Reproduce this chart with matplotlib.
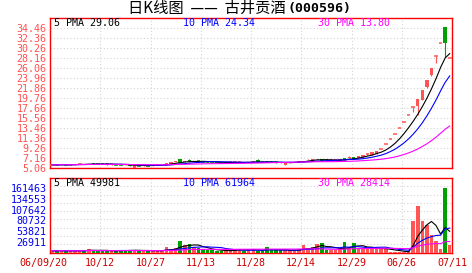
import numpy as np
import pandas as pd
import matplotlib
matplotlib.use("Agg")
import matplotlib.pyplot as plt
from matplotlib.transforms import ScaledTranslation

# daily K-line data, 古井贡酒 (000596)
dates = ["06/09/20", "10/12", "10/27", "11/13", "11/28", "12/14", "12/29", "06/26", "07/11"]

opens = [5.75, 5.80, 5.78, 5.85, 5.80, 5.82, 5.90, 5.98, 5.90, 6.10,
         5.95, 5.93, 5.90, 5.88, 5.90, 5.85, 5.82, 5.75, 5.20, 5.65,
         5.62, 5.66, 5.64, 5.70, 5.72, 5.85, 6.05, 6.45, 6.95, 6.35,
         6.90, 6.40, 6.55, 6.50, 6.45, 6.40, 6.35, 6.30, 6.20, 6.25,
         6.28, 6.30, 6.42, 6.30, 6.30, 6.85, 6.40, 6.38, 6.35, 6.30,
         6.28, 5.85, 6.20, 6.30, 6.40, 6.45, 6.75, 6.60, 6.92, 7.05,
         6.75, 6.70, 6.75, 6.65, 7.20, 7.30, 7.50, 7.20, 7.40, 8.05,
         7.80, 8.10, 9.10, 10.10, 11.20, 12.30, 13.50, 14.70, 16.25, 17.90,
         18.20, 19.50, 22.20, 24.65, 28.64, 31.40, 34.65, 28.20]
closes = [5.80, 5.78, 5.85, 5.80, 5.82, 5.90, 5.95, 5.90, 6.02, 5.95,
          5.93, 5.90, 5.88, 5.90, 5.85, 5.82, 5.75, 5.55, 5.65, 5.62,
          5.66, 5.64, 5.70, 5.72, 5.80, 6.10, 6.35, 6.60, 6.25, 6.60,
          6.50, 6.55, 6.50, 6.45, 6.40, 6.35, 6.30, 6.25, 6.25, 6.28,
          6.30, 6.34, 6.30, 6.38, 6.50, 6.40, 6.38, 6.35, 6.30, 6.28,
          6.22, 6.20, 6.30, 6.40, 6.65, 6.60, 6.90, 7.00, 7.05, 6.65,
          6.70, 6.75, 6.80, 6.95, 6.85, 7.50, 7.05, 7.60, 7.90, 8.10,
          8.45, 8.70, 9.10, 10.10, 11.20, 12.30, 13.50, 14.70, 16.25, 17.90,
          19.60, 21.50, 23.60, 26.05, 28.64, 31.40, 31.44, 28.20]
highs = [5.82, 5.83, 5.88, 5.87, 5.85, 5.92, 5.98, 6.02, 6.05, 6.20,
         5.98, 5.95, 5.92, 5.92, 5.92, 5.88, 5.85, 5.78, 5.68, 5.68,
         5.68, 5.70, 5.75, 5.75, 5.82, 6.12, 6.38, 6.65, 7.10, 6.65,
         7.05, 6.58, 6.60, 6.55, 6.48, 6.42, 6.38, 6.32, 6.28, 6.30,
         6.32, 6.36, 6.45, 6.40, 6.52, 6.95, 6.42, 6.40, 6.38, 6.32,
         6.30, 6.24, 6.32, 6.42, 6.68, 6.62, 7.02, 7.02, 7.10, 7.08,
         6.78, 6.78, 6.82, 6.98, 7.22, 7.55, 7.52, 7.62, 7.95, 8.27,
         8.48, 8.76, 9.10, 10.10, 11.20, 12.30, 13.50, 14.70, 16.25, 17.90,
         19.60, 21.50, 23.60, 26.05, 28.64, 31.40, 34.65, 28.20]
lows = [5.72, 5.76, 5.76, 5.78, 5.78, 5.80, 5.88, 5.88, 5.88, 5.92,
        5.90, 5.88, 5.85, 5.85, 5.83, 5.80, 5.72, 5.50, 5.15, 5.60,
        5.60, 5.62, 5.62, 5.68, 5.70, 5.82, 6.02, 6.42, 6.20, 6.30,
        6.45, 6.38, 6.45, 6.42, 6.38, 6.32, 6.28, 6.22, 6.18, 6.22,
        6.25, 6.28, 6.28, 6.28, 6.28, 6.38, 6.35, 6.30, 6.28, 6.25,
        6.20, 5.82, 6.18, 6.28, 6.38, 6.42, 6.70, 6.58, 6.90, 6.62,
        6.66, 6.68, 6.72, 6.62, 6.82, 7.28, 7.02, 7.18, 7.38, 7.90,
        7.78, 8.06, 9.10, 10.10, 11.20, 12.30, 13.50, 14.70, 16.25, 16.82,
        16.25, 19.40, 22.00, 24.50, 27.24, 31.40, 28.37, 28.20]
volumes = [5000, 4500, 5500, 4000, 5000, 5200, 4800, 5000, 10000, 5000,
           4500, 4800, 5000, 4200, 5000, 6700, 5000, 6500, 7000, 4500,
           5000, 4800, 4200, 5000, 4600, 14000, 9000, 12000, 29000, 19000,
           21600, 15000, 11000, 10000, 6000, 5500, 5000, 5200, 5000, 5500,
           8000, 10000, 5000, 6000, 8500, 5000, 5000, 13000, 6000, 6000,
           5500, 6000, 6000, 5000, 8000, 19000, 10500, 15000, 20700, 25000,
           6000, 7000, 6000, 8000, 26500, 13000, 25000, 12000, 10700, 10000,
           11000, 10500, 10000, 9500, 2500, 2000, 2500, 2000, 3000, 79700,
           117100, 79700, 68300, 44900, 30000, 10000, 161463, 20000]

price_ticks = [5.06, 7.16, 9.26, 11.36, 13.46, 15.56, 17.66, 19.76,
               21.86, 23.96, 26.06, 28.16, 30.26, 32.36, 34.46]
vol_ticks = [26911, 53821, 80732, 107642, 134553, 161463]
price_ma_text = ["5 PMA 29.06", "10 PMA 24.34", "30 PMA 13.80"]
vol_ma_text = ["5 PMA 49981", "10 PMA 61964", "30 PMA 28414"]
ma_windows = [5, 10, 30]
ma_colors = ["black", "#0000ff", "#ff00ff"]

RED = "#ff5555"
GREEN = "#00a000"
GRID = "#d4d4d4"
MONO = "DejaVu Sans Mono"
VTOP = 186420

o = np.array(opens); c = np.array(closes)
h = np.array(highs); l = np.array(lows)
v = np.array(volumes)
n = len(c)
x = np.arange(n)
cols = np.where(c >= o, RED, GREEN)

fig = plt.figure(figsize=(4.72, 2.73), dpi=100)
ax1 = fig.add_axes([50/472, 1-168.3/273, 402/472, 150/273])
ax2 = fig.add_axes([50/472, 1-252.7/273, 402/472, 74.7/273])

# candles
ax1.vlines(x, l, h, colors=cols, lw=0.8, zorder=3)
body = np.abs(c - o)
ax1.bar(x, body, bottom=np.minimum(o, c), width=0.75, color=cols, lw=0, zorder=3)
flat = body < 0.06
ax1.hlines(c[flat], x[flat]-0.4, x[flat]+0.4, colors=cols[flat], lw=1.1, zorder=3)

# volume bars
ax2.bar(x, v, width=0.78, color=cols, lw=0, zorder=3)

for w, col in zip(ma_windows, ma_colors):
    ax1.plot(x, pd.Series(c).rolling(w, min_periods=1).mean(), color=col, lw=0.8, zorder=4)
    ax2.plot(x, pd.Series(v).rolling(w, min_periods=1).mean(), color=col, lw=0.8, zorder=4)

xt = np.linspace(-0.5, n-0.5, len(dates))
for ax in (ax1, ax2):
    ax.set_xlim(-0.5, n-0.5)
    ax.set_xticks(xt)
    ax.set_axisbelow(True)
    for s in ax.spines.values():
        s.set_color("red")
        s.set_linewidth(1.0)
    ax.spines["left"].set_linestyle((0, (1, 1)))
    ax.tick_params(length=0, labelsize=7.2, pad=2.5)

ax1.grid(True, color=GRID, ls=(0, (1, 2)), lw=0.8)
ax2.grid(True, axis="x", color=GRID, ls=(0, (1, 2)), lw=0.8)
# volume panel rows are evenly spaced, not tied to the labels
for k in range(1, 9):
    ax2.axhline(VTOP * k / 9, color=GRID, ls=(0, (1, 2)), lw=0.8, zorder=0)

ax1.set_ylim(5.06, 36.56)
ax1.set_yticks(price_ticks)
ax1.set_yticklabels(["%.2f" % t for t in price_ticks], color="#ff5050", family=MONO)
ax1.set_xticklabels([])

ax2.set_ylim(0, VTOP)
ax2.set_yticks(vol_ticks)
ax2.set_yticklabels([str(t) for t in vol_ticks], color="#0000ee", family=MONO)
ax2.set_xticklabels(dates, color="#cc0000", family=MONO)
ax2.tick_params(axis="x", pad=4)
first = ax2.get_xticklabels()[0]
first.set_transform(first.get_transform() + ScaledTranslation(-0.07, 0, fig.dpi_scale_trans))

# moving-average captions
cap_x = [0.01, 0.331, 0.666]
for ax, texts, yy in ((ax1, price_ma_text, 0.969), (ax2, vol_ma_text, 0.937)):
    for t, xx, col in zip(texts, cap_x, ma_colors):
        ax.text(xx, yy, t, transform=ax.transAxes, color=col, fontsize=7.2,
                family=MONO, va="center", ha="left", zorder=5)

fig.text(286/472, 1-8.5/273, "日K线图  ——  古井贡酒", ha="right", va="center",
         fontsize=11, family=["Noto Sans CJK SC", "DejaVu Sans"])
fig.text(287/472, 1-8.5/273, "(000596)", ha="left", va="center",
         fontsize=9.5, family=MONO, weight="bold")

fig.savefig("out.png", dpi=100)
